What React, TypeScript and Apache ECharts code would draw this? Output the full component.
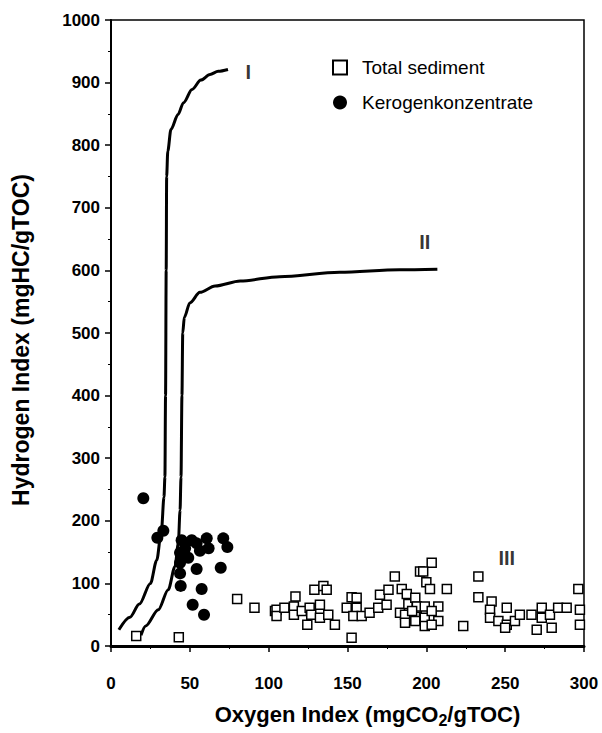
import React, { useEffect, useRef } from "react";
import * as echarts from "echarts";

const sediment: number[][] = [
  [16, 16], [43, 14], [80, 75], [91, 61], [104, 56], [105, 58], [105, 48], [110, 61], [117, 79], [116, 63],
  [116, 50], [121, 56], [124.5, 34], [126, 61], [127, 50], [129, 90], [132.5, 66], [134.7, 96], [136.8, 90],
  [132.5, 45], [137.8, 50], [142, 34], [152.6, 13], [149.5, 61], [152.6, 78], [155.8, 77], [155.8, 61],
  [153.7, 48], [159, 48], [164, 53], [170.6, 82], [169.5, 61], [174.8, 66], [176, 90], [180, 111], [183.3, 53],
  [184.4, 91], [187.6, 83], [188.6, 67], [186.5, 50], [186.5, 37], [192.8, 50], [193.9, 61], [196, 119],
  [203.4, 133], [198, 119], [200, 102], [202.3, 91], [213, 91], [193, 77], [194, 63], [191, 56], [199, 63],
  [207.6, 63], [193, 40], [199, 45], [203.4, 56], [207.6, 40], [199, 32], [203.4, 34], [223.4, 32], [233, 111],
  [233, 78], [241.4, 71], [240.4, 58], [240.4, 45], [245.7, 40], [251, 61], [251, 34], [250, 29], [256.2, 40],
  [259.3, 50], [266.7, 50], [270, 26], [273.2, 61], [273.2, 45], [278.4, 50], [279.5, 29], [283.6, 61],
  [289, 61], [296.4, 91], [297.4, 58], [297.4, 34],
];

const kerogen: number[][] = [
  [20.5, 236], [29.4, 173], [33.2, 184], [44.8, 169], [47, 156], [51.2, 169], [54.3, 164], [60.7, 172],
  [61.9, 156], [71.2, 172], [73.8, 158], [43.8, 149], [49, 141], [56.4, 152], [54.3, 123], [69.6, 125],
  [43.8, 133], [43.8, 116], [44.2, 96], [57.5, 91], [51.8, 66], [59, 50],
];

const typeI: number[][] = [
  [5, 26], [12, 46], [18, 67], [25, 100], [29, 137], [32, 185], [33.6, 238], [34.2, 270], [34.6, 400],
  [35, 600], [35.3, 750], [36, 790], [38, 825], [42.5, 849], [46, 868], [51.4, 889], [57, 904], [62.8, 913],
  [68, 918], [74.2, 921],
];

const typeII: number[][] = [
  [19, 17], [22, 32], [30, 58], [36.3, 90], [40.6, 127], [42.7, 164], [43.8, 217], [44.4, 270], [45, 400],
  [45.5, 500], [46.5, 525], [50, 548], [56.4, 565], [66, 575], [82, 583], [107, 590], [145, 597], [183, 601],
  [207, 602],
];

const typeLabels: (number | string)[][] = [
  [87, 917, "I"],
  [199, 645, "II"],
  [251, 140, "III"],
];

const xTicks = { min: 0, max: 300, interval: 50 };
const yTicks = { min: 0, max: 1000, interval: 100 };

const FONT = "'Liberation Sans', Arial, sans-serif";

export default function App() {
  const ref = useRef<HTMLDivElement>(null);
  useEffect(() => {
    if (!ref.current) return;
    const chart = echarts.init(ref.current, undefined, { renderer: "svg" });
    const lineSeries = (name: string, data: number[][]) => ({
      name,
      type: "line",
      data,
      showSymbol: false,
      symbol: "none",
      smooth: 0.3,
      smoothMonotone: "x",
      lineStyle: { color: "#000", width: 3 },
      z: 3,
      silent: true,
    });
    chart.setOption({
      animation: false,
      backgroundColor: "#fff",
      textStyle: { fontFamily: FONT },
      grid: {
        left: 111,
        top: 20,
        right: 18,
        bottom: 83,
        show: true,
        borderColor: "#000",
        borderWidth: 1.5,
        backgroundColor: "transparent",
      },
      legend: {
        orient: "vertical",
        left: 327,
        top: 53,
        itemWidth: 14,
        itemHeight: 14,
        itemGap: 16,
        data: ["Total sediment", "Kerogenkonzentrate"],
        textStyle: { fontFamily: FONT, fontSize: 19, color: "#000", padding: [0, 0, 0, 10] },
      },
      xAxis: {
        type: "value",
        ...xTicks,
        name: "{a|Oxygen Index (mgCO}{s|2}{a|/gTOC)}",
        nameLocation: "middle",
        nameGap: 54,
        nameTextStyle: {
          padding: [0, 0, 0, 40],
          rich: {
            a: { fontFamily: FONT, fontSize: 22, fontWeight: "bold", color: "#000" },
            s: { fontFamily: FONT, fontSize: 16, fontWeight: "bold", color: "#000", padding: [12, 0, 0, 0] },
          },
        },
        axisLine: { show: true, lineStyle: { color: "#000", width: 3 } },
        axisTick: { show: true, length: 6, lineStyle: { color: "#000", width: 1.5 } },
        minorTick: { show: true, splitNumber: 2, length: 3, lineStyle: { color: "#000", width: 1 } },
        axisLabel: { fontFamily: FONT, fontSize: 17, fontWeight: "bold", color: "#000", margin: 29 },
        splitLine: { show: false },
      },
      yAxis: {
        type: "value",
        ...yTicks,
        name: "Hydrogen Index (mgHC/gTOC)",
        nameLocation: "middle",
        nameGap: 79,
        nameTextStyle: { fontFamily: FONT, fontSize: 23, fontWeight: "bold", color: "#000", padding: [0, 14, 0, 0] },
        axisLine: { show: true, lineStyle: { color: "#000", width: 2 } },
        axisTick: { show: true, length: 6, lineStyle: { color: "#000", width: 1.5 } },
        minorTick: { show: true, splitNumber: 2, length: 3, lineStyle: { color: "#000", width: 1 } },
        axisLabel: {
          fontFamily: FONT,
          fontSize: 17,
          fontWeight: "bold",
          color: "#000",
          margin: 11,
          formatter: (v: number) => String(v),
        },
        splitLine: { show: false },
      },
      series: [
        lineSeries("Type I", typeI),
        lineSeries("Type II", typeII),
        {
          name: "Total sediment",
          type: "scatter",
          data: sediment,
          symbol: "rect",
          symbolSize: 9,
          itemStyle: { color: "#fff", borderColor: "#000", borderWidth: 1.5, opacity: 1 },
          z: 4,
        },
        {
          name: "Kerogenkonzentrate",
          type: "scatter",
          data: kerogen,
          symbol: "circle",
          symbolSize: 12,
          itemStyle: { color: "#000", opacity: 1 },
          z: 5,
        },
        {
          name: "labels",
          type: "scatter",
          data: typeLabels,
          symbolSize: 0,
          silent: true,
          label: {
            show: true,
            position: "inside",
            formatter: (p: any) => p.value[2],
            fontFamily: FONT,
            fontSize: 20,
            fontWeight: "bold",
            color: "#000",
          },
          z: 6,
        },
      ],
    });
    return () => chart.dispose();
  }, []);
  return (
    <div
      ref={ref}
      style={{ position: "fixed", left: 0, top: 0, width: 602, height: 733, background: "#fff" }}
    />
  );
}
